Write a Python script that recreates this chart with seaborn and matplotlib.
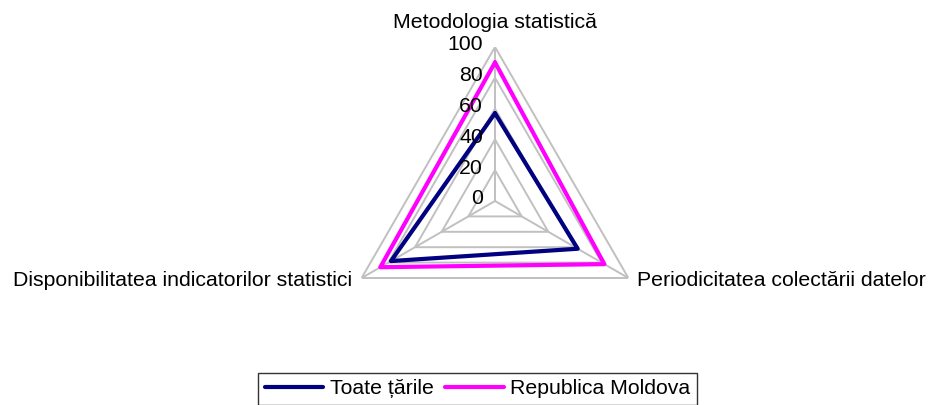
import numpy as np
import matplotlib
matplotlib.use('Agg')
import matplotlib.pyplot as plt
from matplotlib.transforms import offset_copy
import seaborn as sns

sns.set_style('white')
plt.rcParams['font.family'] = ['Liberation Sans', 'DejaVu Sans']
plt.rcParams['text.color'] = 'black'

# Data
categories = ['Metodologia statistică', 'Periodicitatea colectării datelor',
              'Disponibilitatea indicatorilor statistici']
toate_tarile = [57, 62, 78]
moldova = [90, 82, 86]
series_names = ['Toate țările', 'Republica Moldova']
series_colors = ['#000080', '#FF00FF']
ticks = [0, 20, 40, 60, 80, 100]
fs = 15.3

fig = plt.figure(figsize=(9.29, 4.05), dpi=100)
ax = fig.add_axes([341 / 929, 50 / 405, 308 / 929, 308 / 405], projection='polar')
ax.set_theta_offset(np.pi / 2)
ax.set_theta_direction(-1)
ax.set_ylim(0, 100)
ax.grid(False)
ax.spines['polar'].set_visible(False)
ax.patch.set_visible(False)
ax.set_xticks([])
ax.set_yticks([])

angles = np.linspace(0, 2 * np.pi, len(categories), endpoint=False)
closed = np.append(angles, angles[0])

# polygon grid
for t in ticks[1:]:
    ax.plot(closed, [t] * len(closed), color='#C0C0C0', lw=1.4, zorder=1)
for a in angles:
    ax.plot([a, a], [0, 100], color='#C0C0C0', lw=1.4, zorder=1)

# series
for vals, name, col in zip([toate_tarile, moldova], series_names, series_colors):
    ax.plot(closed, vals + vals[:1], color=col, lw=3.0, label=name, zorder=3)

# radial tick labels
tick_tr = offset_copy(ax.transData, fig=fig, x=-12, y=2, units='dots')
for t in ticks:
    ax.text(0, t, str(t), transform=tick_tr, ha='right', va='center',
            fontsize=fs, zorder=4)

# category labels
offsets = [(0, 24, 'center'), (9, -3, 'left'), (-10, -3, 'right')]
for a, lab, (dx, dy, ha) in zip(angles, categories, offsets):
    tr = offset_copy(ax.transData, fig=fig, x=dx, y=dy, units='dots')
    ax.text(a, 100, lab, transform=tr, ha=ha, va='center', fontsize=fs)

leg = fig.legend(loc='upper center', bbox_to_anchor=(0.514, 0.079), ncol=2,
                 fontsize=fs, frameon=True, fancybox=False, handlelength=2.75,
                 handletextpad=0.3, columnspacing=0.55, borderpad=0.3,
                 borderaxespad=0)
leg.get_frame().set_edgecolor('black')
leg.get_frame().set_linewidth(1.0)

fig.savefig('out.png', dpi=100)
